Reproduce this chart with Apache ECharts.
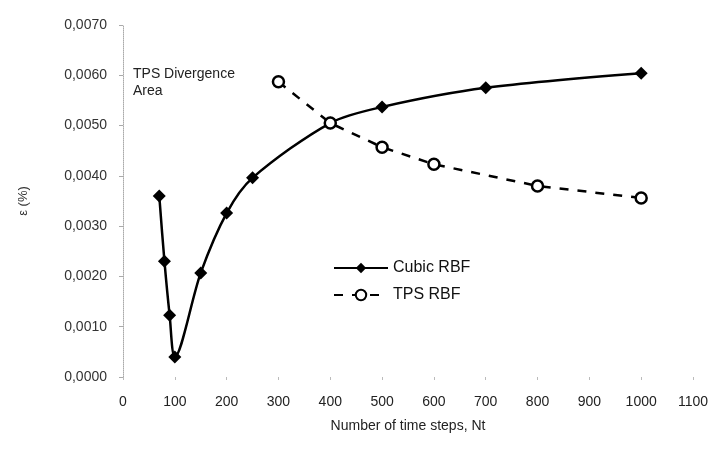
<!DOCTYPE html>
<html>
<head>
<meta charset="utf-8">
<script src="https://cdn.jsdelivr.net/npm/echarts@6/dist/echarts.min.js"></script>
<style>
  html, body { margin: 0; padding: 0; background: #fff; }
  #chart { width: 719px; height: 453px; }
</style>
</head>
<body>
<div id="chart"></div>
<script>
// data
const cubicX = [70, 80, 90, 100, 150, 200, 250, 400, 500, 700, 1000];
const cubicY = [0.0036, 0.0023, 0.00123, 0.0004, 0.00207, 0.00326, 0.00396, 0.00505, 0.00537, 0.00575, 0.00604];
const tpsX = [300, 400, 500, 600, 800, 1000];
const tpsY = [0.00587, 0.00505, 0.00457, 0.00423, 0.0038, 0.00356];

const font = 'Liberation Sans, Arial, sans-serif';

const chart = echarts.init(document.getElementById('chart'));

chart.setOption({
  animation: false,
  grid: { left: 123, right: 26, top: 25, bottom: 76 },
  legend: {
    left: 328, top: 255,
    orient: 'vertical',
    itemGap: 11,
    itemWidth: 54, itemHeight: 13,
    textStyle: { fontFamily: font, fontSize: 16, color: '#111' },
    data: ['Cubic RBF', 'TPS RBF']
  },
  graphic: [{
    type: 'text',
    left: 133, top: 66,
    style: {
      text: 'TPS Divergence\nArea',
      font: '14px ' + font,
      fill: '#222',
      lineHeight: 17
    }
  }],
  xAxis: {
    type: 'value',
    min: 0, max: 1100, interval: 100,
    name: 'Number of time steps, Nt',
    nameLocation: 'middle',
    nameGap: 42,
    nameTextStyle: { fontFamily: font, fontSize: 14, color: '#222' },
    axisLine: { show: false },
    axisTick: { show: true, length: 3, lineStyle: { color: '#bbb' } },
    splitLine: { show: false },
    axisLabel: {
      fontFamily: font, fontSize: 14, color: '#222', margin: 18,
      formatter: v => String(v)
    }
  },
  yAxis: {
    type: 'value',
    min: 0, max: 0.007, interval: 0.001,
    name: 'ε (%)',
    nameLocation: 'middle',
    nameGap: 93,
    nameTextStyle: { fontFamily: font, fontSize: 13, color: '#333' },
    axisLine: { show: true, lineStyle: { color: '#aaa', type: 'dotted' } },
    axisTick: { show: true, length: 4, lineStyle: { color: '#aaa' } },
    splitLine: { show: false },
    axisLabel: {
      fontFamily: font, fontSize: 14, color: '#333', margin: 16,
      formatter: v => v.toFixed(4).replace('.', ',')
    }
  },
  series: [
    {
      name: 'Cubic RBF',
      type: 'line',
      data: cubicX.map((x, i) => [x, cubicY[i]]),
      smooth: 0.3,
      symbol: 'diamond',
      symbolSize: 13,
      lineStyle: { color: '#000', width: 2.5 },
      itemStyle: { color: '#000' }
    },
    {
      name: 'TPS RBF',
      type: 'line',
      data: tpsX.map((x, i) => [x, tpsY[i]]),
      symbol: 'circle',
      symbolSize: 11,
      showAllSymbol: true,
      lineStyle: { color: '#000', width: 2.5, type: [9, 9] },
      itemStyle: { color: '#fff', borderColor: '#000', borderWidth: 2.5 }
    }
  ]
});
</script>
</body>
</html>
